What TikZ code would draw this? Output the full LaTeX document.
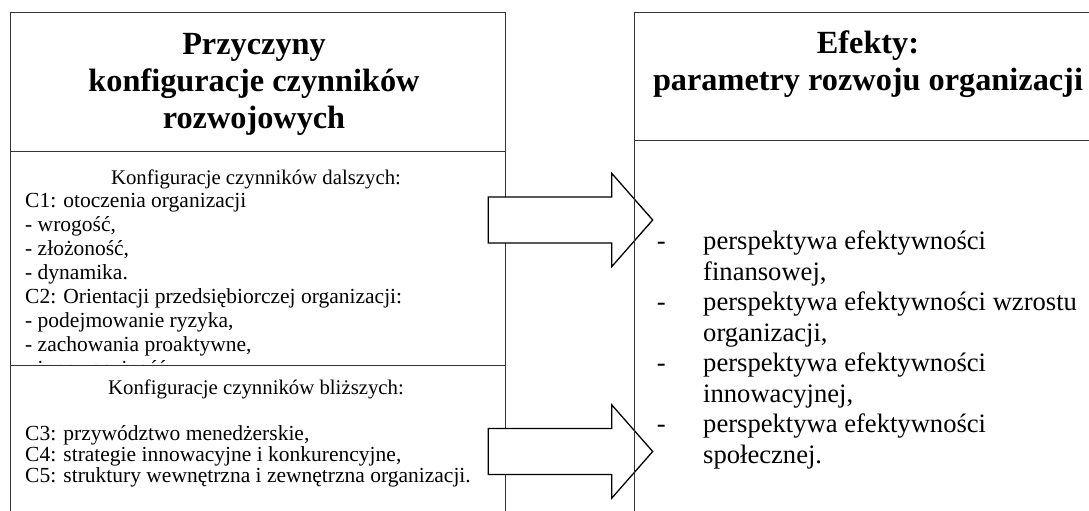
\documentclass[tikz,border=0pt]{standalone}
\usepackage{fontspec}
\setmainfont{Liberation Serif}
\usetikzlibrary{positioning}
\tikzset{
  frame/.style={draw=black!80,line width=1pt},
  bigarrow/.style={draw=black,line width=1.3pt,fill=white,line join=miter},
  title/.style={font=\fontsize{32.3}{36.7}\selectfont\bfseries,anchor=base,inner sep=0pt},
  small/.style={font=\fontsize{21.5}{24}\selectfont,anchor=base west,inner sep=0pt},
  smallhead/.style={font=\fontsize{20.8}{24}\selectfont,anchor=base,inner sep=0pt},
  big/.style={font=\fontsize{26.6}{30.5}\selectfont,anchor=base west,inner sep=0pt},
}
\begin{document}
\begin{tikzpicture}[x=1pt,y=-1pt]
\useasboundingbox (0,0) rectangle (1089,511);
\clip (0,0) rectangle (1089,511);

% przyczyny
\draw[frame] (10,12.7) rectangle (505.7,530);
\draw[frame] (10,151) -- (505.7,151);
\node[title] (p1) at (254,55) {Przyczyny};
\node[title] (p2) at (254,91.7) {konfiguracje czynników};
\node[title] (p3) at (254,128.3) {rozwojowych};

\node[smallhead] (d0) at (256,184) {Konfiguracje czynników dalszych:};
\foreach \t [count=\i] in {{C1: otoczenia organizacji},{- wrogość,},{- złożoność,},
    {- dynamika.},{C2: Orientacji przedsiębiorczej organizacji:},
    {- podejmowanie ryzyka,},{- zachowania proaktywne,},{- innowacyjność,}}
  \node[small] (d\i) at (25,{207+24*(\i-1)}) {\t};

\draw[frame,fill=white] (10,365) rectangle (505.7,530);
\node[smallhead] (b0) at (256,394) {Konfiguracje czynników bliższych:};
\node[small] (b1) at (25,440) {C3: przywództwo menedżerskie,};
\node[small] (b2) at (25,461) {C4: strategie innowacyjne i konkurencyjne,};
\node[small] (b3) at (25,482) {C5: struktury wewnętrzna i zewnętrzna organizacji.};

% strzalki
\foreach \c in {220,451.5}
  \draw[bigarrow] (488.3,\c-23) -- (611.7,\c-23) -- (611.7,\c-46.7) -- (652.7,\c)
    -- (611.7,\c+46.7) -- (611.7,\c+23) -- (488.3,\c+23) -- cycle;

% efekty
\draw[frame] (1100,12.7) -- (634.3,12.7) -- (634.3,530);
\draw[frame] (634.3,140) -- (1100,140);
\node[title] (e1) at (868,53.3) {Efekty:};
\node[title] (e2) at (868,90) {parametry rozwoju organizacji};

\foreach \a/\b [count=\i] in {{perspektywa efektywności}/{finansowej,},
    {perspektywa efektywności wzrostu}/{organizacji,},
    {perspektywa efektywności}/{innowacyjnej,},
    {perspektywa efektywności}/{społecznej.}}{
  \node[big] (m\i) at (656.7,{249.5+61*(\i-1)}) {-};
  \node[big] (r\i) at (703,{249.5+61*(\i-1)}) {\a};
  \node[big] (s\i) at (703,{280+61*(\i-1)}) {\b};
}
\end{tikzpicture}
\end{document}
